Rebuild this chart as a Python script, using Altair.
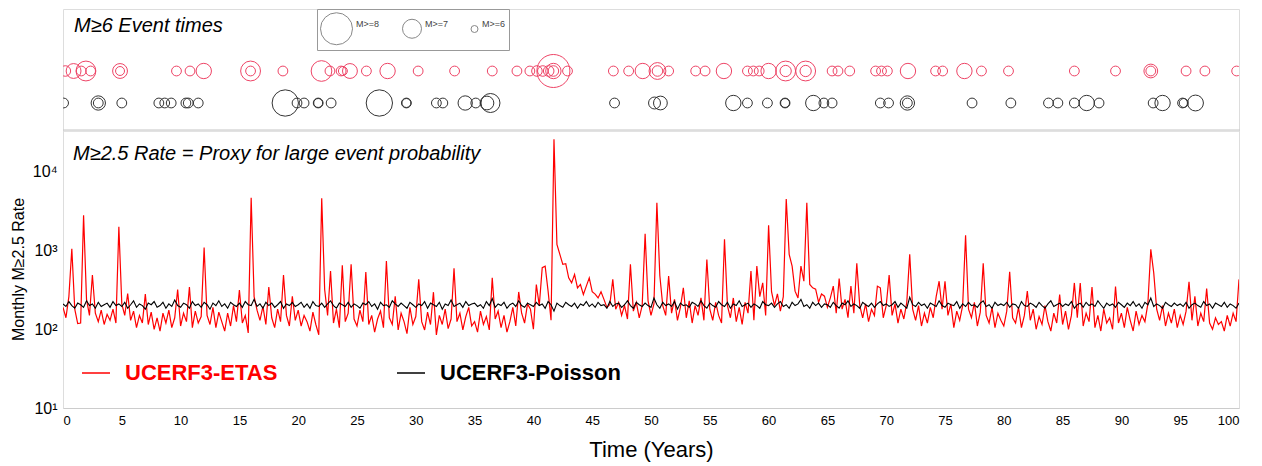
import altair as alt
import pandas as pd

# ---------------- text ----------------
title_top = "M≥6 Event times"
title_bottom = "M≥2.5 Rate = Proxy for large event probability"
y_title = "Monthly M≥2.5 Rate"
x_title = "Time (Years)"
series_names = ["UCERF3-ETAS", "UCERF3-Poisson"]
row_names = ["ETAS", "Poisson"]
x_ticks = list(range(0, 101, 5))
y_ticks = [10, 100, 1000, 10000]
legend_mags = [8, 7, 6]
time_step = 0.25  # readings every quarter year

# ---------------- monthly M>=2.5 rate, read every 0.25 yr ----------------
etas_rate = (
    [190, 140, 260, 1050, 180, 118, 120, 2800, 240, 150, 490, 160, 125, 175, 115, 155, 130, 180, 120, 2000]
    + [210, 150, 285, 130, 170, 105, 150, 120, 280, 115, 165, 100, 140, 95, 160, 120, 175, 105, 140, 320]
    + [110, 160, 125, 343, 105, 170, 120, 145, 1090, 150, 115, 190, 105, 165, 125, 95, 160, 110, 200, 125]
    + [314, 120, 150, 90, 4700, 260, 175, 130, 195, 115, 343, 140, 105, 180, 125, 488, 150, 110, 263, 130]
    + [175, 110, 150, 125, 95, 165, 115, 85, 4630, 320, 150, 548, 120, 180, 105, 650, 125, 160, 667, 135]
    + [110, 175, 125, 533, 115, 150, 92, 135, 170, 105, 735, 140, 115, 263, 98, 160, 125, 88, 190, 115]
    + [145, 430, 125, 98, 165, 115, 296, 85, 150, 115, 180, 102, 135, 594, 125, 160, 98, 145, 190, 110]
    + [125, 92, 170, 115, 145, 98, 450, 135, 170, 105, 150, 92, 125, 190, 110, 298, 160, 120, 210, 180]
    + [100, 371, 200, 605, 634, 305, 130, 26000, 1200, 895, 667, 680, 450, 388, 497, 336, 371, 276, 353, 450]
    + [300, 280, 250, 300, 240, 190, 206, 430, 180, 220, 150, 200, 135, 667, 170, 220, 140, 200, 1630, 230]
    + [150, 210, 4060, 483, 200, 150, 473, 160, 240, 130, 190, 336, 140, 230, 120, 200, 150, 250, 130, 770]
    + [180, 130, 220, 150, 120, 1390, 200, 140, 250, 125, 190, 115, 220, 160, 548, 130, 634, 260, 388, 150]
    + [2090, 300, 200, 282, 170, 260, 4500, 895, 634, 305, 250, 634, 408, 4060, 371, 336, 324, 220, 280, 263]
    + [190, 250, 353, 160, 442, 180, 240, 140, 353, 160, 688, 200, 140, 210, 125, 180, 150, 353, 336, 140]
    + [200, 488, 150, 210, 120, 180, 135, 220, 895, 180, 130, 200, 110, 160, 120, 190, 140, 260, 408, 180]
    + [408, 150, 210, 105, 170, 130, 200, 1560, 180, 140, 220, 110, 165, 688, 150, 120, 190, 105, 160, 130]
    + [110, 170, 537, 140, 120, 190, 105, 150, 305, 130, 180, 100, 145, 115, 200, 125, 95, 160, 120, 276]
    + [115, 170, 100, 150, 388, 140, 388, 110, 160, 125, 343, 105, 150, 95, 180, 120, 140, 100, 350, 120]
    + [160, 105, 190, 130, 95, 170, 115, 150, 125, 210, 1035, 520, 180, 130, 200, 110, 160, 120, 180, 105]
    + [150, 115, 170, 400, 130, 263, 110, 160, 125, 330, 120, 100, 140, 115, 125, 95, 150, 110, 160, 125]
    + [430]
)

poisson_rate = (
    [210, 195, 225, 200, 185, 215, 205, 190, 230, 200, 210, 185, 220, 195, 205, 215, 190, 225, 200, 210]
    + [195, 220, 185, 205, 230, 190, 210, 200, 180, 215, 205, 225, 190, 200, 220, 185, 210, 195, 235, 200]
    + [190, 215, 205, 185, 225, 200, 210, 190, 220, 205, 180, 215, 200, 230, 195, 210, 185, 220, 205, 195]
    + [215, 190, 225, 205, 200, 240, 195, 210, 185, 220, 200, 215, 190, 205, 225, 185, 210, 200, 220, 195]
    + [205, 220, 190, 210, 185, 225, 200, 195, 215, 190, 210, 230, 200, 185, 215, 205, 195, 220, 190, 210]
    + [200, 185, 215, 205, 225, 195, 210, 180, 220, 200, 205, 190, 230, 210, 195, 215, 200, 185, 220, 205]
    + [190, 210, 200, 225, 185, 215, 205, 195, 220, 180, 210, 200, 235, 195, 205, 215, 190, 225, 200, 210]
    + [215, 195, 205, 185, 225, 200, 245, 190, 210, 200, 220, 185, 205, 215, 195, 230, 200, 190, 215, 205]
    + [195, 220, 200, 210, 185, 225, 205, 170, 215, 200, 190, 220, 205, 195, 215, 185, 210, 200, 225, 195]
    + [210, 190, 220, 200, 205, 185, 225, 195, 210, 215, 190, 205, 230, 200, 185, 220, 205, 195, 215, 200]
    + [190, 250, 205, 185, 220, 200, 210, 195, 225, 180, 215, 200, 205, 190, 220, 210, 195, 230, 200, 185]
    + [215, 200, 190, 225, 205, 195, 220, 185, 210, 200, 230, 195, 205, 215, 190, 210, 200, 185, 225, 205]
    + [200, 215, 190, 210, 225, 195, 205, 185, 220, 200, 210, 240, 195, 205, 185, 220, 200, 215, 190, 210]
    + [205, 190, 220, 200, 185, 215, 205, 230, 195, 210, 200, 185, 220, 205, 195, 215, 190, 210, 225, 200]
    + [210, 195, 205, 225, 190, 215, 200, 185, 255, 205, 195, 220, 200, 210, 185, 215, 205, 195, 230, 200]
    + [190, 215, 205, 200, 225, 185, 210, 195, 220, 200, 205, 190, 215, 230, 195, 205, 185, 220, 200, 210]
    + [200, 220, 190, 210, 205, 185, 225, 200, 195, 215, 205, 190, 220, 200, 185, 210, 230, 195, 205, 215]
    + [195, 210, 200, 225, 185, 205, 215, 190, 220, 200, 210, 195, 230, 205, 185, 215, 200, 210, 190, 220]
    + [205, 190, 215, 200, 225, 195, 210, 185, 220, 205, 250, 195, 210, 200, 185, 220, 205, 195, 215, 200]
    + [210, 195, 220, 185, 205, 215, 200, 190, 225, 200, 210, 185, 215, 205, 195, 220, 190, 210, 200, 185]
    + [215]
)

# ---------------- M>=6 events (year, magnitude) ----------------
etas_event_years = [0.2, 0.9, 1.55, 1.95, 2.35, 4.85, 4.85, 9.65, 10.8, 11.97, 15.95, 15.95, 18.7,
                    21.98, 22.7, 23.65, 23.8, 24.4, 25.8, 27.6, 30.2, 33.3, 36.5, 38.6, 39.7, 40.3,
                    40.8, 41.3, 41.7, 41.7, 41.7, 42.9, 46.8, 48.1, 49.3, 50.55, 50.55, 51.5, 53.8,
                    54.6, 56.2, 58.2, 58.7, 59.2, 60.0, 61.45, 61.45, 63.15, 63.15, 65.4, 65.9, 66.9,
                    69.1, 69.6, 70.1, 71.85, 74.2, 74.8, 76.65, 78.1, 80.4, 86.0, 89.5, 92.5, 92.5,
                    95.5, 97.1, 99.8]
etas_event_mags = [6.2, 6.55, 6.15, 7.05, 6.15, 6.55, 6.1, 6.15, 6.15, 6.6, 7.05, 6.15, 6.15,
                   7.1, 6.15, 6.15, 6.1, 6.55, 6.15, 6.6, 6.15, 6.15, 6.15, 6.15, 6.15, 6.2,
                   6.2, 6.2, 8.1, 6.6, 6.2, 6.15, 6.15, 6.15, 6.6, 6.75, 6.2, 6.15, 6.15,
                   6.15, 6.6, 6.15, 6.15, 6.15, 6.6, 7.05, 6.25, 7.05, 6.25, 6.15, 6.15, 6.15,
                   6.15, 6.15, 6.15, 6.6, 6.15, 6.15, 6.6, 6.15, 6.15, 6.15, 6.15, 6.45, 6.15,
                   6.15, 6.15, 6.15]
poisson_event_years = [0.05, 3.0, 3.0, 5.0, 8.15, 8.65, 9.2, 10.45, 10.65, 11.5, 18.9, 19.9, 20.5,
                       21.7, 21.7, 22.8, 26.9, 29.2, 29.2, 31.75, 32.3, 34.2, 35.1, 36.05, 36.35,
                       46.9, 50.3, 50.8, 57.0, 58.2, 59.9, 61.4, 61.4, 63.8, 64.7, 65.4, 69.5, 70.2,
                       71.8, 71.8, 77.3, 80.6, 83.8, 84.6, 86.0, 87.05, 88.1, 92.7, 93.5, 95.2, 95.3,
                       96.3]
poisson_event_mags = [6.15, 6.5, 6.15, 6.15, 6.15, 6.15, 6.15, 6.15, 6.15, 6.15, 7.5, 6.15, 6.15,
                      6.15, 6.1, 6.15, 7.5, 6.15, 6.1, 6.15, 6.15, 6.5, 6.15, 6.45, 7.0,
                      6.15, 6.3, 6.45, 6.6, 6.15, 6.15, 6.15, 6.1, 6.6, 6.15, 6.15, 6.15, 6.15,
                      6.5, 6.15, 6.15, 6.15, 6.15, 6.15, 6.15, 6.6, 6.15, 6.15, 6.6, 6.15, 6.1,
                      6.65]

assert len(etas_rate) == len(poisson_rate) == 401
assert len(etas_event_years) == len(etas_event_mags)
assert len(poisson_event_years) == len(poisson_event_mags)

# ---------------- tables ----------------
years = [round(i * time_step, 2) for i in range(len(etas_rate))]
df_etas = pd.DataFrame({"year": years, "rate": etas_rate, "model": series_names[0]})
df_pois = pd.DataFrame({"year": years, "rate": poisson_rate, "model": series_names[1]})
events = pd.concat([
    pd.DataFrame({"year": etas_event_years, "mag": etas_event_mags, "row": row_names[0]}),
    pd.DataFrame({"year": poisson_event_years, "mag": poisson_event_mags, "row": row_names[1]}),
])

FONT = "Liberation Sans"
W = 1176
H_TOP = 121
H_BOT = 278
xscale = alt.Scale(domain=[0, 100], nice=False, zero=False)

# ---------------- top panel: event times ----------------
circles = alt.Chart(events).mark_point(
    shape="circle", filled=False, strokeWidth=1, opacity=1, clip=True
).encode(
    x=alt.X("year:Q", scale=xscale,
            axis=alt.Axis(title=None, labels=False, ticks=False, grid=False,
                          domainColor="#8c8c8c", domainWidth=1.5)),
    y=alt.Y("row:N", scale=alt.Scale(domain=row_names, range=[62, 94], padding=0), axis=None),
    color=alt.Color("row:N", scale=alt.Scale(domain=row_names, range=["#ee4466", "#333333"]),
                    legend=None),
    size=alt.Size("mag:Q", scale=alt.Scale(domain=[6, 7, 8], range=[49, 361, 1024]),
                  legend=alt.Legend(
                      orient="none", legendX=254, legendY=0, direction="horizontal",
                      values=legend_mags, labelExpr="'M>=' + datum.value", title=None,
                      strokeColor="#999999", fillColor="white", padding=3,
                      symbolStrokeColor="#888888", symbolFillColor="transparent",
                      symbolStrokeWidth=1, symbolType="circle", symbolOpacity=1,
                      labelFontSize=9, labelFont=FONT, labelColor="#444444",
                      labelBaseline="bottom", labelOffset=3, columnPadding=20)),
)

top_text = alt.Chart(pd.DataFrame({"t": [title_top]})).mark_text(
    align="left", baseline="middle", fontSize=20, fontStyle="italic", font=FONT, color="black"
).encode(text="t:N", x=alt.value(11), y=alt.value(17))

top = alt.layer(circles, top_text).properties(width=W, height=H_TOP)

# ---------------- bottom panel: rates ----------------
x_axis = alt.Axis(values=x_ticks, title=x_title, ticks=False, grid=False, domainColor="#cccccc",
                  labelFontSize=13, labelFont=FONT, labelPadding=6, labelColor="black",
                  titleFontSize=22, titleFont=FONT, titleFontWeight="normal", titlePadding=12,
                  titleColor="black")
y_axis = alt.Axis(values=y_ticks, title=y_title, ticks=False, grid=False, domain=False,
                  labelExpr="datum.value == 10 ? '10¹' : datum.value == 100 ? '10²' : "
                            "datum.value == 1000 ? '10³' : '10⁴'",
                  labelFontSize=16, labelFont=FONT, labelPadding=6, labelColor="black",
                  titleFontSize=16, titleFont=FONT, titleFontWeight="normal", titlePadding=6,
                  titleColor="black")
yscale = alt.Scale(type="log", domain=[10, 34000], nice=False)


def legend_at(lx, color):
    return alt.Legend(orient="none", legendX=lx, legendY=228, title=None, symbolType="stroke",
                      symbolSize=784, symbolStrokeWidth=1.5, labelColor=color, labelFontSize=22,
                      labelFontWeight="bold", labelFont=FONT, labelOffset=14, padding=0,
                      labelLimit=0)


line_etas = alt.Chart(df_etas).mark_line(strokeWidth=1.2, clip=True).encode(
    x=alt.X("year:Q", scale=xscale, axis=x_axis),
    y=alt.Y("rate:Q", scale=yscale, axis=y_axis),
    color=alt.Color("model:N", scale=alt.Scale(domain=[series_names[0]], range=["#ff0000"]),
                    legend=legend_at(18, "#ff0000")),
)
line_pois = alt.Chart(df_pois).mark_line(strokeWidth=1.1, clip=True).encode(
    x=alt.X("year:Q", scale=xscale),
    y=alt.Y("rate:Q", scale=yscale),
    color=alt.Color("model:N", scale=alt.Scale(domain=[series_names[1]], range=["#000000"]),
                    legend=legend_at(333, "#000000")),
)
bottom_text = alt.Chart(pd.DataFrame({"t": [title_bottom]})).mark_text(
    align="left", baseline="middle", fontSize=20, fontStyle="italic", font=FONT, color="black"
).encode(text="t:N", x=alt.value(10), y=alt.value(24))

bottom = alt.layer(line_etas, line_pois, bottom_text).resolve_scale(
    color="independent").resolve_legend(color="independent").properties(width=W, height=H_BOT)

chart = alt.vconcat(top, bottom, spacing=0, bounds="flush").properties(
    padding={"left": 1, "top": 0, "right": 4, "bottom": 4}
).configure_view(stroke="#cccccc").configure(background="white")

chart.save("out.html", embed_options={"renderer": "svg", "actions": False})
